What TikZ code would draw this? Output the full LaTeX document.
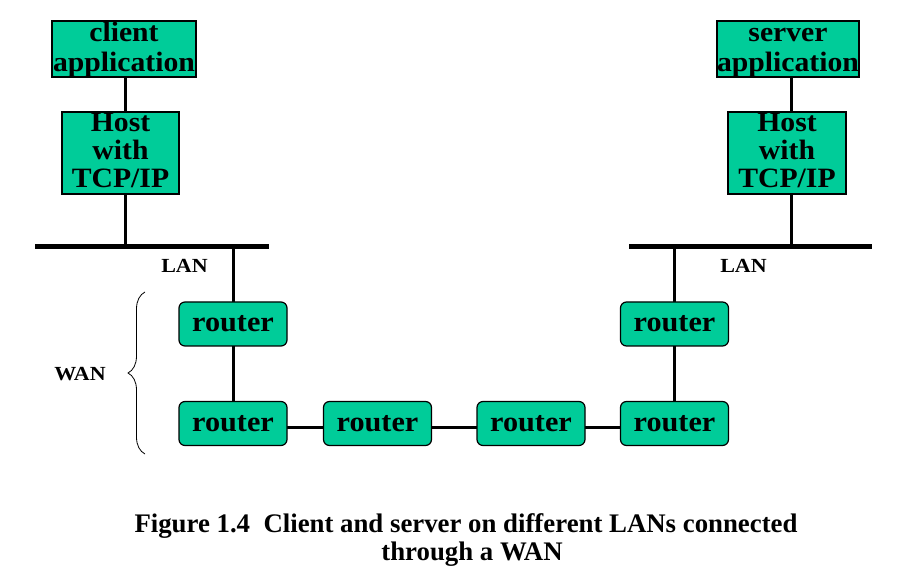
\documentclass[tikz,border=0pt]{standalone}
\usepackage{fontspec}
\setmainfont{Liberation Serif}
\newfontfamily\widefont[FakeStretch=1.06]{Liberation Serif}
\newfontfamily\lblfont[FakeStretch=1.1]{Liberation Serif}
\usetikzlibrary{decorations.pathreplacing}
\definecolor{boxgreen}{RGB}{0,204,153}
\tikzset{
  hostbox/.style={draw=black, line width=1.2pt, fill=boxgreen, inner sep=0pt, align=center},
  appfont/.style={font=\fontsize{28}{30}\widefont\bfseries},
  hostfont/.style={font=\fontsize{28}{28}\widefont\bfseries},
  routerbox/.style={draw=black, line width=1.2pt, fill=boxgreen, inner sep=0pt, rounded corners=6pt,
    minimum width=108pt, minimum height=44pt, text height=20pt, text depth=4pt,
    font=\fontsize{28.5}{28}\widefont\bfseries},
  wire/.style={line width=3pt},
  bus/.style={line width=5pt},
  lbl/.style={font=\fontsize{20}{20}\lblfont\bfseries, inner sep=0pt, anchor=base},
  captext/.style={font=\fontsize{26.8}{28}\selectfont\bfseries, inner sep=0pt, anchor=base},
}
\begin{document}
\begin{tikzpicture}[x=1pt,y=-1pt]
\useasboundingbox (0,0) rectangle (898,588);
% boxes
\node[hostbox, appfont, minimum width=144pt, minimum height=54pt] (capp) at (124,49)
  {\rule{0pt}{20pt}client\\application\rule[-4pt]{0pt}{4pt}};
\node[hostbox, hostfont, minimum width=117pt, minimum height=82pt] (hostL) at (120.5,153)
  {\rule{0pt}{19pt}Host\\with\\TCP/IP\rule[-5pt]{0pt}{5pt}};
\node[hostbox, appfont, minimum width=142pt, minimum height=54pt] (sapp) at (788,49)
  {\rule{0pt}{20pt}server\\application\rule[-4pt]{0pt}{4pt}};
\node[hostbox, hostfont, minimum width=118pt, minimum height=82pt] (hostR) at (787,153)
  {\rule{0pt}{19pt}Host\\with\\TCP/IP\rule[-5pt]{0pt}{5pt}};
% bus coordinates
\coordinate (busLa) at (35,247);
\coordinate (busLb) at (269,247);
\coordinate (busRa) at (629,247);
\coordinate (busRb) at (872,247);
\coordinate (xL) at (125.5,0);
\coordinate (xR) at (791,0);
\coordinate (hy) at (0,427);
\coordinate (r1c) at (233,324);
\coordinate (r2c) at (233,423.5);
\coordinate (r3c) at (377.5,423.5);
\coordinate (r4c) at (531,423.5);
\coordinate (r5c) at (674.5,324);
\coordinate (r6c) at (674.5,423.5);
% buses
\draw[bus] (busLa) -- (busLb);
\draw[bus] (busRa) -- (busRb);
% wires (drawn below routers)
\draw[wire] (capp.south -| xL) -- (hostL.north -| xL);
\draw[wire] (hostL.south -| xL) -- (busLa -| xL);
\draw[wire] (sapp.south -| xR) -- (hostR.north -| xR);
\draw[wire] (hostR.south -| xR) -- (busRa -| xR);
\draw[wire] (busLa -| r1c) -- (r1c) -- (r2c);
\draw[wire] (busRa -| r5c) -- (r5c) -- (r6c);
\draw[wire] (r2c |- hy) -- (r6c |- hy);
% routers
\node[routerbox] (r1) at (r1c) {router};
\node[routerbox] (r2) at (r2c) {router};
\node[routerbox] (r3) at (r3c) {router};
\node[routerbox] (r4) at (r4c) {router};
\node[routerbox] (r5) at (r5c) {router};
\node[routerbox] (r6) at (r6c) {router};
% labels
\node[lbl] (lanL) at (184.5,273) {LAN};
\node[lbl] (lanR) at (743.5,273) {LAN};
\node[lbl] (wan) at (80,381) {WAN};
% brace
\coordinate (brA) at (145,454);
\coordinate (brB) at (145,292);
\draw[line width=0.8pt, decorate, decoration={brace, amplitude=17pt}] (brA) -- (brB);
% caption
\node[captext] (cap1) at (466,532) {Figure 1.4\ \ Client and server on different LANs connected};
\node[captext] (cap2) at (472,560) {through a WAN};
\end{tikzpicture}
\end{document}
